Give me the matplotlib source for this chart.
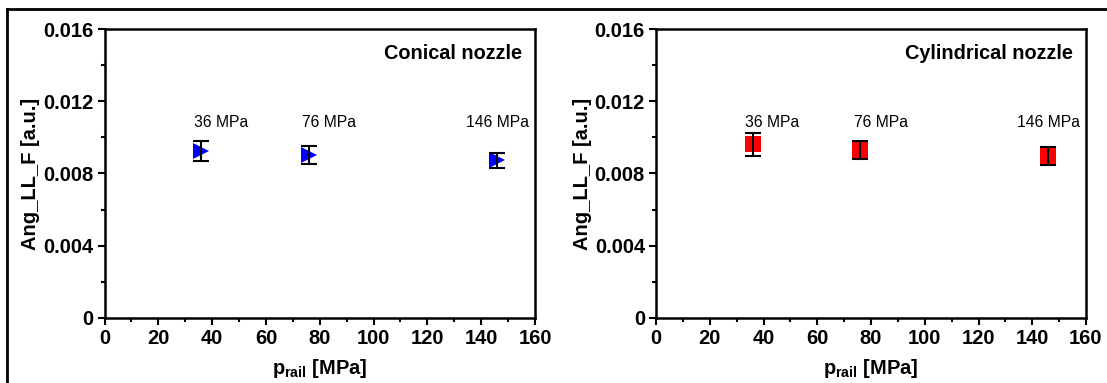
import matplotlib
matplotlib.use("Agg")
import matplotlib.pyplot as plt
from matplotlib.ticker import MultipleLocator, FixedLocator, FixedFormatter
from matplotlib.lines import Line2D

plt.rcParams['font.family'] = ['Liberation Sans', 'DejaVu Sans']
plt.rcParams['mathtext.fontset'] = 'custom'
plt.rcParams['mathtext.rm'] = 'Liberation Sans'
plt.rcParams['mathtext.bf'] = 'Liberation Sans:bold'

# Data
pressure = [36, 76, 146]
pressure_labels = ["36 MPa", "76 MPa", "146 MPa"]
label_x = [33.3, 73.5, 134.5]
label_y = 0.0106

conical_vals = [0.00924, 0.00903, 0.00873]
conical_err = [0.00057, 0.00048, 0.00040]

cyl_vals = [0.00962, 0.00930, 0.00897]
cyl_err = [0.00063, 0.00050, 0.00050]

yticks = [0, 0.004, 0.008, 0.012, 0.016]
yticklabels = ["0", "0.004", "0.008", "0.012", "0.016"]
xticks = [0, 20, 40, 60, 80, 100, 120, 140, 160]

W, H = 1107, 383
fig = plt.figure(figsize=(W / 100, H / 100), dpi=100)

panels = [
    dict(left=104.5, right=535, title="Conical nozzle", vals=conical_vals,
         err=conical_err, marker='>', color='#0000ff', ms=11),
    dict(left=656, right=1086, title="Cylindrical nozzle", vals=cyl_vals,
         err=cyl_err, marker='s', color='#ff0000', ms=12),
]
top_px, bot_px = 29.3, 317.7

for p in panels:
    ax = fig.add_axes([p['left'] / W, (H - bot_px) / H,
                       (p['right'] - p['left']) / W, (bot_px - top_px) / H])
    ax.plot(pressure, p['vals'], linestyle='none', marker=p['marker'],
            color=p['color'], markersize=p['ms'], markeredgewidth=0, zorder=2)
    ax.errorbar(pressure, p['vals'], yerr=p['err'], fmt='none', ecolor='black',
                elinewidth=1.5, capsize=6, capthick=1.5, zorder=3)
    for lx, lab in zip(label_x, pressure_labels):
        ax.text(lx, label_y, lab, fontsize=11.3, ha='left', va='baseline')
    ax.text(0.97, 0.917, p['title'], transform=ax.transAxes, fontsize=14.3,
            fontweight='bold', ha='right', va='center')

    ax.set_xlim(0, 160)
    ax.set_ylim(0, 0.016)
    ax.xaxis.set_major_locator(FixedLocator(xticks))
    ax.xaxis.set_minor_locator(MultipleLocator(10))
    ax.yaxis.set_major_locator(FixedLocator(yticks))
    ax.yaxis.set_major_formatter(FixedFormatter(yticklabels))
    ax.yaxis.set_minor_locator(MultipleLocator(0.002))
    ax.tick_params(which='both', direction='out', width=1.5, top=False, right=False)
    ax.tick_params(which='major', length=5, labelsize=14.5, pad=3)
    ax.tick_params(which='minor', length=3)
    for lbl in ax.get_xticklabels() + ax.get_yticklabels():
        lbl.set_fontweight('bold')
    for s in ax.spines.values():
        s.set_linewidth(1.8)

    ax.set_ylabel("Ang_LL_F [a.u.]", fontsize=14.5, fontweight='bold')
    ax.yaxis.set_label_coords(-0.15, 0.5)
    ax.set_xlabel(r"$\mathbf{p_{rail}}$ [MPa]", fontsize=14.5, fontweight='bold')
    ax.xaxis.set_label_coords(0.5, -0.135)

# outer frame lines (top and left)
fig.add_artist(Line2D([7 / W, 1.0], [1 - 9 / H, 1 - 9 / H], color='black',
                      linewidth=2, transform=fig.transFigure))
fig.add_artist(Line2D([7 / W, 7 / W], [0, 1 - 9 / H], color='black',
                      linewidth=2, transform=fig.transFigure))

fig.savefig("out.png", dpi=100)
